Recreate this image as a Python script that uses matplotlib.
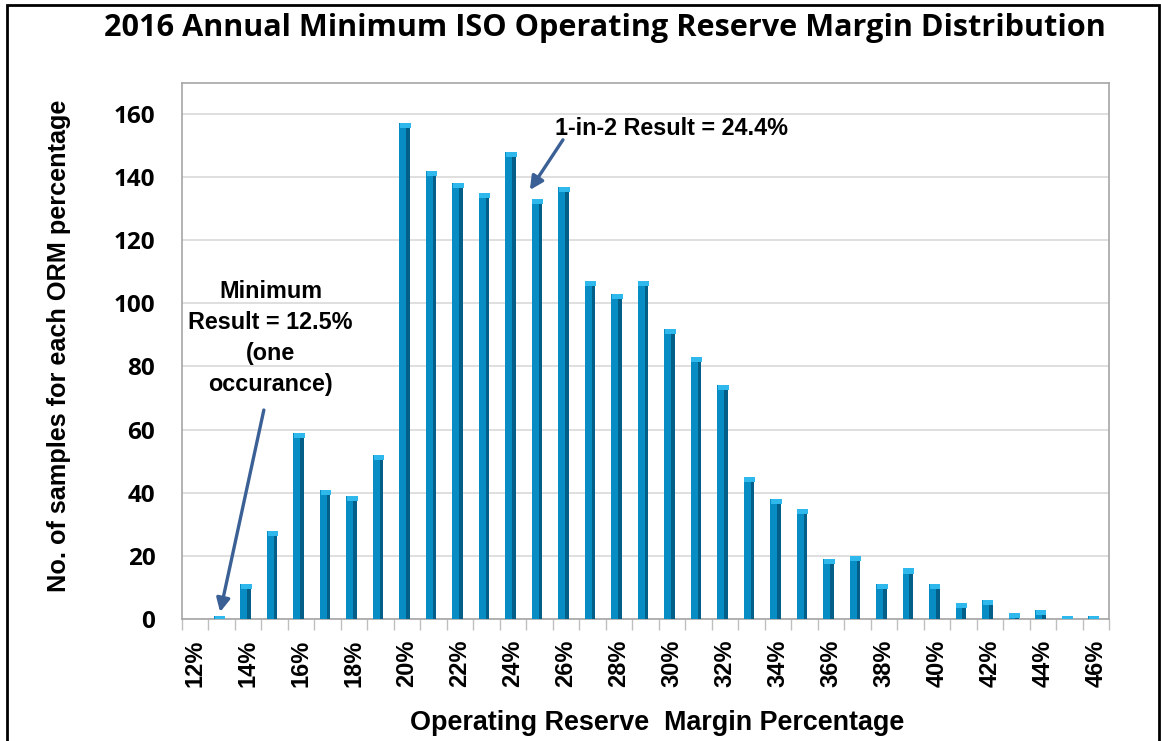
import numpy as np
import matplotlib.pyplot as plt
from matplotlib.patches import Rectangle

# ORM percentage categories and sample counts
pct = list(range(12, 47))
counts = [0, 1, 11, 28, 59, 41, 39, 52, 157, 142, 138, 135, 148, 133, 137,
          107, 103, 107, 92, 83, 74, 45, 38, 35, 19, 20, 11, 16, 11, 5, 6,
          2, 3, 1, 1]
y_ticks = [0, 20, 40, 60, 80, 100, 120, 140, 160]

W, H = 1161, 741
fig = plt.figure(figsize=(W / 100, H / 100), dpi=100)
ax = fig.add_axes([181.7 / W, 1 - 619 / H, (1109 - 181.7) / W, (619 - 83) / H])

x = np.arange(len(pct))
face_w = 0.26
side_w = 0.14
off = -0.09
# front face, dark side, and light cap to mimic excel's 3d columns
ax.bar(x + off - side_w / 2, counts, width=face_w, color="#078DC4", zorder=3)
ax.bar(x + off + face_w / 2, counts, width=side_w, color="#045F88", zorder=3)
cap = [min(c, 1.6) for c in counts]
ax.bar(x + off + 0.03, cap, bottom=[c - h for c, h in zip(counts, cap)],
       width=face_w + side_w, color="#2FB8EC", zorder=4)

ax.set_xlim(-0.5, len(pct) - 0.5)
ax.set_ylim(0, 169.8)
ax.set_yticks(y_ticks)
ax.yaxis.grid(True, color="#D9D9D9", linewidth=1.2)
ax.set_axisbelow(True)
for s in ax.spines.values():
    s.set_color("#A6A6A6")
    s.set_linewidth(1.2)

ax.set_xticks(x[::2])
ax.set_xticklabels([f"{p}%" for p in pct[::2]], rotation=90,
                   fontsize=17, fontweight="bold", family="Liberation Sans")
ax.set_xticks(np.arange(-0.5, len(pct), 1), minor=True)
ax.tick_params(axis="x", which="major", length=0, pad=15)
ax.tick_params(axis="x", which="minor", length=8, color="#BFBFBF", width=1)
ax.tick_params(axis="y", length=0, pad=19)
for lab in ax.get_yticklabels():
    lab.set_fontsize(17.5)
    lab.set_fontweight("bold")
    lab.set_family("Open Sans")

ax.set_ylabel("No. of samples for each ORM percentage", fontsize=18.2,
              fontweight="bold", family="Liberation Sans", labelpad=31)
ax.set_xlabel("Operating Reserve  Margin Percentage", fontsize=19.4,
              fontweight="bold", family="Liberation Sans", labelpad=16)
ax.xaxis.label.set_x(0.513)
ax.yaxis.label.set_y(0.51)

fig.text(605 / W, 1 - 28 / H,
         "2016 Annual Minimum ISO Operating Reserve Margin Distribution",
         ha="center", va="center", fontsize=22.1, fontweight="bold",
         family="Open Sans")

arrow = dict(arrowstyle="-|>", color="#3B6095", lw=2.4, mutation_scale=20,
             shrinkA=0, shrinkB=0)
ax.text(13.6, 155.5, "1-in-2 Result = 24.4%", fontsize=16.8,
        fontweight="bold", family="Liberation Sans", ha="left", va="center")
ax.annotate("", xy=(12.64, 135.9), xytext=(13.89, 151.8), arrowprops=arrow)
ax.annotate("", xy=(0.95, 2.2), xytext=(2.6, 66.2), arrowprops=arrow)
ax.text(2.86, 89, "Minimum\nResult = 12.5%\n(one\noccurance)", ha="center",
        va="center", fontsize=16.8, fontweight="bold",
        family="Liberation Sans", linespacing=1.45)

fig.add_artist(Rectangle((7 / W, -0.02), (1159 - 7) / W, 1.02 - 4.7 / H,
                         transform=fig.transFigure, fill=False,
                         edgecolor="black", linewidth=2))

fig.savefig("out.png", dpi=100)
